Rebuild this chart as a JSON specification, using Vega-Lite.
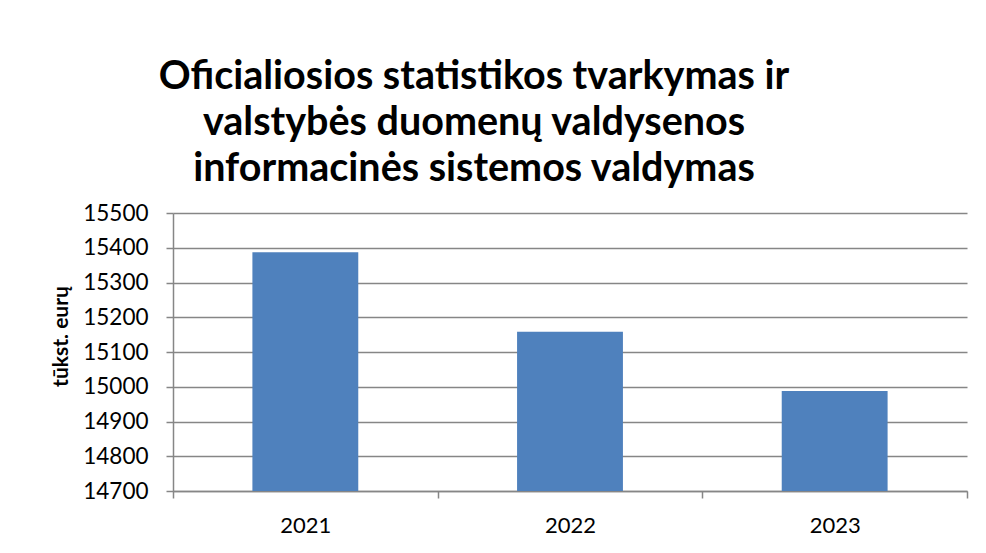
{
  "$schema": "https://vega.github.io/schema/vega-lite/v6.json",
  "autosize": "none",
  "width": 794,
  "height": 278,
  "padding": {"left": 173, "top": 213, "right": 19, "bottom": 62},
  "background": "white",
  "title": {
    "text": ["Oficialiosios statistikos tvarkymas ir", "valstybės duomenų valdysenos", "informacinės sistemos valdymas"],
    "font": "Lato",
    "fontSize": 39.5,
    "fontWeight": "bold",
    "color": "black",
    "lineHeight": 46,
    "anchor": "middle",
    "frame": "group",
    "dx": -96,
    "offset": 13
  },
  "data": {
    "values": [
      {"year": "2021", "value": 15387},
      {"year": "2022", "value": 15158},
      {"year": "2023", "value": 14988}
    ]
  },
  "mark": {"type": "bar", "color": "#4F81BD", "width": {"band": 0.4}, "clip": true},
  "encoding": {
    "x": {
      "field": "year",
      "type": "ordinal",
      "scale": {"paddingInner": 0, "paddingOuter": 0},
      "axis": {
        "title": null,
        "labelAngle": 0,
        "labelFont": "Lato",
        "labelFontSize": 22,
        "labelColor": "black",
        "labelPadding": 17,
        "tickBand": "extent",
        "tickSize": 7,
        "tickColor": "#868686",
        "domainColor": "#868686",
        "domainWidth": 1.5,
        "tickWidth": 1.5
      }
    },
    "y": {
      "field": "value",
      "type": "quantitative",
      "scale": {"domain": [14700, 15500], "zero": false, "nice": false},
      "axis": {
        "title": "tūkst. eurų",
        "titleFont": "Lato",
        "titleFontSize": 21,
        "titleFontWeight": "bold",
        "titleColor": "black",
        "titleAngle": 270,
        "titleAlign": "center",
        "titleBaseline": "middle",
        "titleX": -112,
        "titleY": 123,
        "values": [14700, 14800, 14900, 15000, 15100, 15200, 15300, 15400, 15500],
        "format": "d",
        "labelFont": "Lato",
        "labelFontSize": 22.5,
        "labelColor": "black",
        "labelPadding": 18,
        "tickSize": 7,
        "tickColor": "#868686",
        "domainColor": "#868686",
        "domainWidth": 1.5,
        "tickWidth": 1.5,
        "grid": true,
        "gridColor": "#868686",
        "gridWidth": 1.5
      }
    }
  },
  "config": {"view": {"stroke": null}}
}
